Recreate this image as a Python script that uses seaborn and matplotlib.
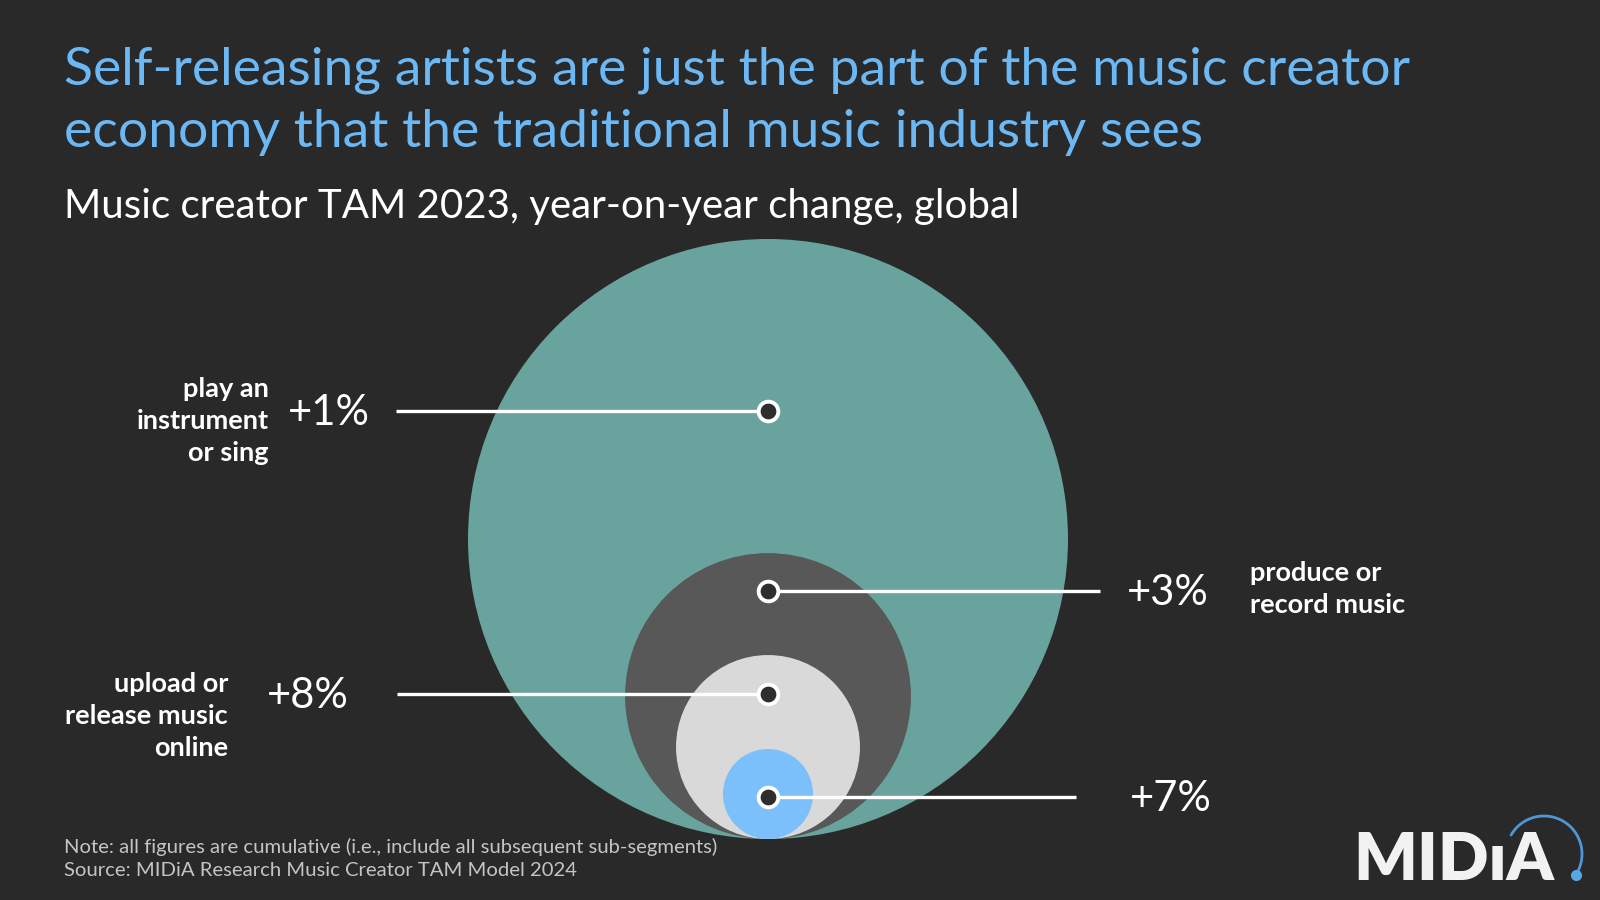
import numpy as np
import pandas as pd
import matplotlib
matplotlib.use("Agg")
import matplotlib.pyplot as plt
from matplotlib.patches import Circle
import seaborn as sns

# data
segments = ["play an\ninstrument\nor sing", "produce or\nrecord music",
            "upload or\nrelease music\nonline", ""]
yoy_change = ["+1%", "+3%", "+8%", "+7%"]
tam_share = [1.0, 0.227, 0.094, 0.0225]   # relative size of each (cumulative) segment
circle_colors = ["#68a39d", "#585858", "#d9d9d9", "#7cc0fb"]

BG = "#292929"

sns.set_theme(style="white")
plt.rcParams["font.family"] = ["Lato", "DejaVu Sans"]

fig = plt.figure(figsize=(16, 9), dpi=100, facecolor=BG)
ax = fig.add_axes([0, 0, 1, 1])
ax.set_facecolor(BG)

# nested circles, all sitting on the same bottom line
cx, bottom, R = 768, 839, 300
radii = [R * np.sqrt(s) for s in tam_share]
for r, col in zip(radii, circle_colors):
    ax.add_patch(Circle((cx, bottom - r), r, facecolor=col, edgecolor="none", zorder=1))

# connector lines + markers
dot_y = [411, 591, 694, 797]
side = ["left", "right", "left", "right"]
line_end = [396, 1100, 397, 1076]
for y, x_end in zip(dot_y, line_end):
    ax.plot([cx, x_end], [y, y], color="white", lw=2.4, zorder=2, solid_capstyle="butt")

dots = pd.DataFrame({"x": [cx] * 4, "y": dot_y, "seg": yoy_change})
sns.scatterplot(data=dots, x="x", y="y", ax=ax, s=200, color="#2e2e2e",
                edgecolor="white", linewidth=2.8, zorder=3, legend=False)
ax.set_xlim(0, 1600)
ax.set_ylim(900, 0)
ax.set_aspect("equal")
ax.axis("off")

pct_x = [329, 1168, 308, 1171]
lab_x = [269, 1250, 228, None]
lab_y = [421, 589, 716, 0]
for i in range(4):
    ax.text(pct_x[i], dot_y[i] + 2, yoy_change[i], color="white", fontsize=30,
            ha="center", va="center", zorder=4)
    if segments[i]:
        ha = "right" if side[i] == "left" else "left"
        ax.text(lab_x[i], lab_y[i], segments[i], color="white", fontsize=19.5,
                fontweight="bold", ha=ha, va="center", linespacing=1.42,
                multialignment=ha, zorder=4)

# titles
ax.text(64, 84, "Self-releasing artists are just the part of the music creator",
        color="#6cb8f5", fontsize=38.5, ha="left", va="baseline")
ax.text(64, 147, "economy that the traditional music industry sees",
        color="#6cb8f5", fontsize=38.5, ha="left", va="baseline")
ax.text(64, 218, "Music creator TAM 2023, year-on-year change, global",
        color="white", fontsize=29, ha="left", va="baseline")

# footnotes
ax.text(64, 853, "Note: all figures are cumulative (i.e., include all subsequent sub-segments)",
        color="#c4c4c4", fontsize=14.6, ha="left", va="baseline")
ax.text(64, 876, "Source: MIDiA Research Music Creator TAM Model 2024",
        color="#c4c4c4", fontsize=14.6, ha="left", va="baseline")

# logo
ax.text(1353, 880, "MIDıA", color="#f2f2f2", fontsize=48, fontweight="heavy",
        ha="left", va="baseline")
th = np.linspace(np.radians(150), np.radians(-32), 60)
ax.plot(1544 + 38 * np.cos(th), 854 - 38 * np.sin(th), color="#4f97d4", lw=2.0)
ax.plot([1576], [875], "o", color="#5aa7e6", ms=7)

fig.savefig("out.png", dpi=100, facecolor=BG)
